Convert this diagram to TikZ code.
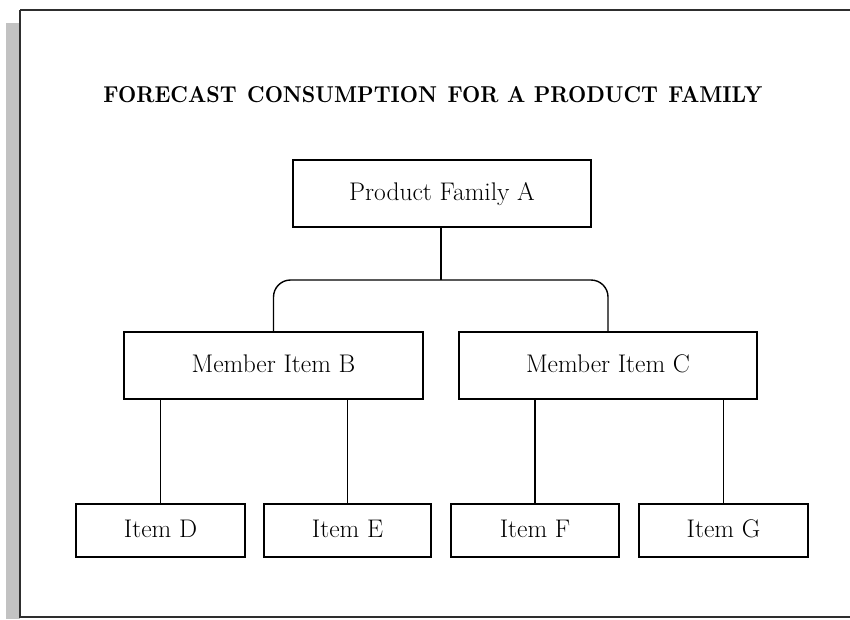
\documentclass[tikz,border=0pt]{standalone}
\usepackage{fontspec}
\begin{document}
\begin{tikzpicture}[x=1pt,y=-1pt,
  box/.style={draw=black,line width=1.4pt,rectangle,inner sep=0pt,
    font=\fontsize{25.5}{28}\selectfont,text height=17pt,text depth=4pt},
  bigbox/.style={box,minimum width=298pt,minimum height=67pt},
  smallbox/.style={box,minimum width=168pt,minimum height=53pt},
  link/.style={draw=black,line width=1.4pt}]
\useasboundingbox (0,0) rectangle (850,619);
% drop shadow and page frame
\fill[black!24] (6,23) rectangle (20,619);
\draw[line width=2.2pt,draw=black!82] (20,10) -- (860,10);
\draw[line width=2.2pt,draw=black!82] (20,10) -- (20,617) -- (860,617);
% heading
\node[anchor=base] (title) at (433,102)
  {\resizebox{659pt}{16pt}{\bfseries FORECAST\hspace{0.5em}CONSUMPTION\hspace{0.5em}FOR\hspace{0.4em}A\hspace{0.4em}PRODUCT\hspace{0.5em}FAMILY}};
% tree
\node[bigbox] (A) at (442,193.5) {Product Family A};
\node[bigbox,minimum width=299pt] (B) at (273.5,365.5) {Member Item B};
\node[bigbox] (C) at (608,365.5) {Member Item C};
\node[smallbox,minimum width=169pt] (D) at (160.5,530.5) {Item D};
\node[smallbox,minimum width=167pt] (E) at (347.5,530.5) {Item E};
\node[smallbox] (F) at (535,530.5) {Item F};
\node[smallbox,minimum width=169pt] (G) at (723.5,530.5) {Item G};
\coordinate (bar) at (441,280);
\draw[link] (A.south -| bar) -- (bar);
\draw[link,rounded corners=17pt] (B.north) -- (B.north |- bar) -- (C.north |- bar) -- (C.north);
\draw[link] (D.north |- B.south) -- (D.north);
\draw[link] (E.north |- B.south) -- (E.north);
\draw[link] (F.north |- C.south) -- (F.north);
\draw[link] (G.north |- C.south) -- (G.north);
\end{tikzpicture}
\end{document}
